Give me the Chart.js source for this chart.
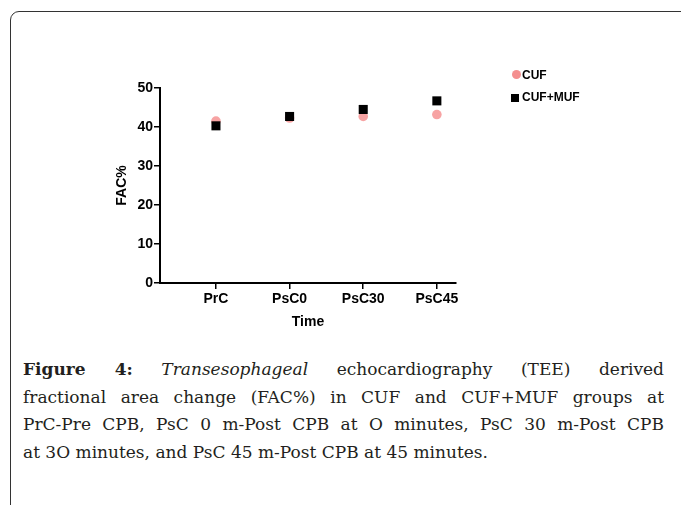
<!DOCTYPE html>
<html>
<head>
<meta charset="utf-8">
<script src="https://cdn.jsdelivr.net/npm/chart.js@4.4.0/dist/chart.umd.min.js"></script>
<style>
body { margin: 0; background: #fff; }
#wrap { position: relative; width: 681px; height: 505px; overflow: hidden; }
#frame { position: absolute; left: 10px; top: 11px; width: 720px; height: 540px;
  border: 1.5px solid #333; border-top-left-radius: 9px; }
#chart { position: absolute; left: 0; top: 0; }
.leg { position: absolute; font: bold 12px "Liberation Sans", Arial, sans-serif; color: #000; }
.dot { position: absolute; width: 9px; height: 9px; border-radius: 50%; background: #f48f8f; }
.sq { position: absolute; width: 8px; height: 8px; background: #000; }
#caption { position: absolute; left: 23px; top: 356px; width: 641px;
  font: 17px "DejaVu Serif", serif; color: #231f20; line-height: 27.5px; }
#caption div { text-align: justify; text-align-last: justify; white-space: nowrap; }
#caption div.last { text-align-last: left; }
</style>
</head>
<body>
<div id="wrap">
  <div id="frame"></div>
  <canvas id="chart" width="681" height="340"></canvas>
  <div class="dot" style="left:512px;top:70px"></div>
  <div class="leg" style="left:522px;top:68px">CUF</div>
  <div class="sq" style="left:511px;top:94px"></div>
  <div class="leg" style="left:522px;top:90px">CUF+MUF</div>
  <div id="caption">
    <div><b>Figure 4:</b> <i>Transesophageal</i> echocardiography (TEE) derived</div>
    <div>fractional area change (FAC%) in CUF and CUF+MUF groups at</div>
    <div>PrC-Pre CPB, PsC 0 m-Post CPB at O minutes, PsC 30 m-Post CPB</div>
    <div class="last">at 3O minutes, and PsC 45 m-Post CPB at 45 minutes.</div>
  </div>
</div>
<script>
// time points and FAC%
const timepoints = ['PrC', 'PsC0', 'PsC30', 'PsC45'];
const cuf = [41.5, 42.3, 42.7, 43.2];
const cufmuf = [40.3, 42.7, 44.5, 46.7];
const yticks = [0, 10, 20, 30, 40, 50];

const axisfont = { family: 'Liberation Sans, Arial, sans-serif', size: 14, weight: 'bold' };

function topoints(vals) {
    let pts = [];
    vals.forEach((v, i) => {
        pts.push({ x: i + 1, y: v });
    });
    return pts;
}

const data = {
    datasets: [
        {
            label: 'CUF+MUF',
            data: topoints(cufmuf),
            pointStyle: 'rect',
            pointRadius: 6.4,
            backgroundColor: '#000',
            borderColor: '#000',
            borderWidth: 0,
            order: 0
        },
        {
            label: 'CUF',
            data: topoints(cuf),
            pointStyle: 'circle',
            pointRadius: 4.8,
            backgroundColor: '#f7a3a3',
            borderColor: '#f7a3a3',
            borderWidth: 0,
            order: 1
        }
    ]
};

const config = {
    type: 'scatter',
    data: data,
    options: {
        responsive: false,
        animation: false,
        layout: { padding: { left: 100, right: 225, top: 88, bottom: 0 } },
        plugins: {
            legend: { display: false },
            tooltip: { enabled: false }
        },
        scales: {
            x: {
                type: 'linear',
                min: 0.24,
                max: 4.26,
                afterBuildTicks: (scale) => {
                    scale.ticks = timepoints.map((t, i) => ({ value: i + 1 }));
                },
                afterFit: (scale) => { scale.height = 57; },
                ticks: {
                    autoSkip: false,
                    maxRotation: 0,
                    color: '#000',
                    font: axisfont,
                    padding: 2,
                    callback: (v) => timepoints[v - 1]
                },
                grid: { drawOnChartArea: false, drawTicks: true, tickLength: 6, color: '#000', lineWidth: 1.5 },
                border: { display: true, color: '#000', width: 2 },
                title: { display: true, text: 'Time', color: '#000', font: axisfont, padding: { top: 0, bottom: 9 } }
            },
            y: {
                min: 0,
                max: 50,
                afterBuildTicks: (scale) => {
                    scale.ticks = yticks.map(v => ({ value: v }));
                },
                afterFit: (scale) => { scale.width = 60; },
                ticks: { color: '#000', font: axisfont, padding: 1 },
                grid: { drawOnChartArea: false, drawTicks: true, tickLength: 6, color: '#000', lineWidth: 1.5 },
                border: { display: true, color: '#000', width: 2 },
                title: { display: true, text: 'FAC%', color: '#000', font: axisfont, padding: { top: 14, bottom: 0 } }
            }
        }
    }
};

new Chart(document.getElementById('chart'), config);
</script>
</body>
</html>
